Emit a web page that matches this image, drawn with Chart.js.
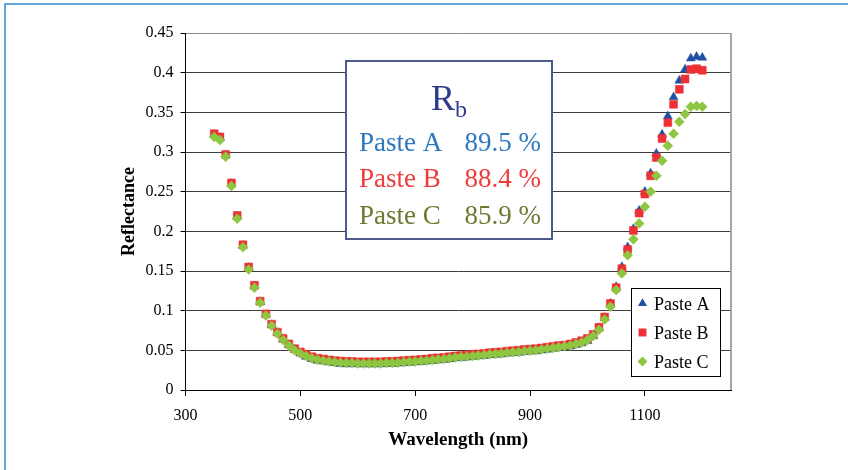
<!DOCTYPE html>
<html><head><meta charset="utf-8">
<script src="https://cdn.jsdelivr.net/npm/chart.js@4.4.1/dist/chart.umd.min.js"></script>
<style>
html,body{margin:0;padding:0;background:#fff;overflow:hidden}
#wrap{position:relative;width:848px;height:470px}
canvas{position:absolute;left:0;top:0}
</style></head>
<body><div id="wrap"><canvas id="c" width="848" height="470"></canvas></div>
<script>
// ---- data ----
const wavelength = [350,360,370,380,390,400,410,420,430,440,450,460,470,480,490,500,510,520,530,540,550,560,570,580,
  590,600,610,620,630,640,650,660,670,680,690,700,710,720,730,740,750,760,770,780,790,800,810,820,830,840,850,860,870,880,890,900,
  910,920,930,940,950,960,970,980,990,1000,1010,1020,1030,1040,1050,1060,1070,1080,1090,1100,1110,1120,1130,1140,1150,1160,1170,1180,1190,1200];

const pasteA = [0.322,0.318,0.296,0.260,0.219,0.182,0.154,0.131,0.111,0.095,0.082,0.072,0.064,0.057,0.051,0.046,0.042,0.039,0.037,0.036,0.035,0.034,0.033,0.0325,
  0.0328,0.0325,0.0325,0.0325,0.0325,0.0325,0.033,0.033,0.0335,0.034,0.0345,0.035,0.0355,0.036,0.0368,0.0375,0.038,0.039,0.040,0.0405,0.041,0.042,0.0425,0.043,0.044,0.0445,0.045,0.046,0.0465,0.047,0.048,0.0485,
  0.049,0.050,0.051,0.052,0.053,0.054,0.055,0.057,0.059,0.062,
  0.068,0.078,0.091,0.109,0.130,0.155,0.180,0.203,0.226,0.250,0.273,0.298,0.322,0.345,0.369,0.390,0.404,0.418,0.420,0.419];

const pasteB = [0.323,0.319,0.297,0.261,0.220,0.183,0.155,0.132,0.112,0.096,0.083,0.073,0.065,0.058,0.052,0.048,0.045,0.042,0.040,0.039,0.038,0.037,0.0365,0.036,
  0.036,0.0355,0.0355,0.0355,0.0355,0.0355,0.036,0.036,0.0365,0.037,0.0375,0.038,0.0385,0.039,0.040,0.0405,0.041,0.042,0.043,0.0435,0.044,0.045,0.0455,0.046,0.047,0.0475,0.048,0.049,0.0495,0.050,0.051,0.0515,
  0.052,0.053,0.054,0.055,0.056,0.0565,0.058,0.060,0.062,0.065,
  0.070,0.079,0.092,0.109,0.129,0.153,0.177,0.201,0.223,0.247,0.270,0.293,0.317,0.337,0.360,0.379,0.392,0.404,0.405,0.403];

const pasteC = [0.319,0.315,0.294,0.257,0.216,0.180,0.152,0.129,0.110,0.094,0.081,0.071,0.063,0.056,0.050,0.046,0.043,0.040,0.038,0.037,0.036,0.035,0.0345,0.034,
  0.034,0.0335,0.0335,0.0335,0.0335,0.0335,0.034,0.034,0.0345,0.035,0.0355,0.036,0.0365,0.037,0.0378,0.0385,0.039,0.040,0.041,0.0415,0.042,0.043,0.0435,0.044,0.045,0.0455,0.046,0.047,0.0475,0.048,0.049,0.0495,
  0.050,0.051,0.052,0.053,0.054,0.055,0.056,0.058,0.060,0.063,
  0.068,0.076,0.089,0.105,0.126,0.147,0.170,0.190,0.210,0.231,0.250,0.270,0.289,0.308,0.323,0.338,0.348,0.357,0.358,0.357];

const seriesNames = ['Paste A','Paste B','Paste C'];
const xTickValues = [300,500,700,900,1100];
const yTickValues = [0,0.05,0.1,0.15,0.2,0.25,0.3,0.35,0.4,0.45];
const yTickLabels = ['0','0.05','0.1','0.15','0.2','0.25','0.3','0.35','0.4','0.45'];
const rbTitle = ['R','b'];
const rbNames = ['Paste A','Paste B','Paste C'];
const rbValues = ['89.5 %','88.4 %','85.9 %'];

// ---- styles ----
const SERIF = '"Liberation Serif","Times New Roman",serif';
const markerColors = ['#1f51a2','#ee3035','#8dc641'];
const markerStyles = ['triangle','rect','rectRot'];
const markerRadius = [5.2,5.6,5];
const rbColors = ['#2e78c0','#ee3b3b','#6b7a30'];

function toPoints(ys){ return wavelength.map((x,i)=>({x:x,y:ys[i]})); }
const seriesValues = [pasteA,pasteB,pasteC];

const datasets = seriesValues.map((vals,i)=>({
  label: seriesNames[i],
  data: toPoints(vals),
  showLine:false,
  pointStyle: markerStyles[i],
  pointRadius: markerRadius[i],
  pointHoverRadius: markerRadius[i],
  backgroundColor: markerColors[i],
  borderColor: markerColors[i],
  pointBorderWidth: 0.5,
  order: 2 - i
}));

function drawMarker(ctx, style, x, y, r, color){
  ctx.save();
  ctx.fillStyle = color;
  ctx.beginPath();
  if (style==='triangle'){
    ctx.moveTo(x, y - r);
    ctx.lineTo(x + r*Math.sin(2*Math.PI/3), y - r*Math.cos(2*Math.PI/3));
    ctx.lineTo(x + r*Math.sin(4*Math.PI/3), y - r*Math.cos(4*Math.PI/3));
  } else if (style==='rect'){
    const s = r*Math.SQRT1_2;
    ctx.rect(x-s, y-s, 2*s, 2*s);
  } else {
    ctx.moveTo(x-r, y); ctx.lineTo(x, y-r); ctx.lineTo(x+r, y); ctx.lineTo(x, y+r);
  }
  ctx.closePath();
  ctx.fill();
  ctx.restore();
}

const decor = {
  id:'decor',
  beforeDraw(chart){
    const ctx = chart.ctx;
    ctx.save();
    ctx.fillStyle='#fff';
    ctx.fillRect(0,0,chart.width,chart.height);
    ctx.strokeStyle='#64a6d8';
    ctx.lineWidth=2;
    ctx.beginPath();
    ctx.moveTo(5,470); ctx.lineTo(5,4); ctx.lineTo(848,4);
    ctx.stroke();
    ctx.restore();
  },
  afterDraw(chart){
    const ctx = chart.ctx;
    const a = chart.chartArea;
    ctx.save();
    // right border of plot area
    ctx.strokeStyle='#a6a6a6';
    ctx.lineWidth=2;
    ctx.beginPath();
    ctx.moveTo(a.right, a.top); ctx.lineTo(a.right, a.bottom);
    ctx.stroke();

    // Rb annotation box
    ctx.fillStyle='#fff';
    ctx.fillRect(346,61,206,178);
    ctx.strokeStyle='#4d5b8c';
    ctx.lineWidth=2;
    ctx.strokeRect(346,61,206,178);
    ctx.textBaseline='alphabetic';
    ctx.font = '36px ' + SERIF;
    const wR = ctx.measureText(rbTitle[0]).width;
    ctx.font = '24px ' + SERIF;
    const wb = ctx.measureText(rbTitle[1]).width;
    const x0 = 449 - (wR + wb)/2;
    ctx.fillStyle='#2e3a8c';
    ctx.font = '36px ' + SERIF;
    ctx.textAlign='left';
    ctx.fillText(rbTitle[0], x0, 110);
    ctx.font = '24px ' + SERIF;
    ctx.fillText(rbTitle[1], x0 + wR, 117);
    const baselines = [151,187,224];
    ctx.font = '27px ' + SERIF;
    for (let i=0;i<3;i++){
      ctx.fillStyle = rbColors[i];
      ctx.textAlign='left';
      ctx.fillText(rbNames[i], 359, baselines[i]);
      ctx.textAlign='right';
      ctx.fillText(rbValues[i], 541, baselines[i]);
    }

    // legend
    ctx.fillStyle='#fff';
    ctx.fillRect(631,288,89,88);
    ctx.strokeStyle='#000';
    ctx.lineWidth=1;
    ctx.strokeRect(631.5,288.5,89,88);
    const ly = [303.5,332.5,361.5];
    ctx.font = '18px ' + SERIF;
    ctx.textAlign='left';
    ctx.textBaseline='alphabetic';
    for (let i=0;i<3;i++){
      drawMarker(ctx, markerStyles[i], 642.5, ly[i], markerRadius[i], markerColors[i]);
      ctx.fillStyle='#000';
      ctx.fillText(seriesNames[i], 654, ly[i] + 6);
    }
    ctx.restore();
  }
};

new Chart(document.getElementById('c'), {
  type:'scatter',
  data:{ datasets },
  options:{
    responsive:false,
    animation:false,
    events:[],
    layout:{ padding:{ left:110, top:33, right:117, bottom:0 } },
    plugins:{ legend:{display:false}, tooltip:{enabled:false} },
    scales:{
      x:{
        type:'linear', position:'bottom', min:300, max:1250,
        afterBuildTicks(s){ s.ticks = xTickValues.map(v=>({value:v})); },
        afterFit(s){ s.height = 80; },
        grid:{ drawOnChartArea:false, drawTicks:true, tickLength:6, color:'#000', tickColor:'#000' },
        border:{ display:true, color:'#000', width:1 },
        ticks:{ color:'#000', font:{ family:SERIF, size:16 }, padding:10, maxRotation:0, autoSkip:false,
                callback:(v)=>String(v) },
        title:{ display:true, text:'Wavelength (nm)', color:'#000',
                font:{ family:SERIF, size:19, weight:'bold' }, padding:{ top:0, bottom:19 } }
      },
      y:{
        type:'linear', min:0, max:0.45,
        afterBuildTicks(s){ s.ticks = yTickValues.map(v=>({value:v})); },
        afterFit(s){ s.width = 75.5; },
        grid:{ drawOnChartArea:true, drawTicks:true, tickLength:5, tickColor:'#000', lineWidth:1,
               color:(c)=> (c.tick && c.tick.value===0.45) ? '#8a8a8a' : '#3c3c3c' },
        border:{ display:true, color:'#000', width:1 },
        ticks:{ color:'#000', font:{ family:SERIF, size:16 }, padding:7, autoSkip:false,
                callback:(v,i)=> yTickLabels[i] },
        title:{ display:true, text:'Reflectance', color:'#000',
                font:{ family:SERIF, size:18, weight:'bold' }, padding:{ top:9, bottom:0 } }
      }
    }
  },
  plugins:[decor]
});
</script>
</body></html>
